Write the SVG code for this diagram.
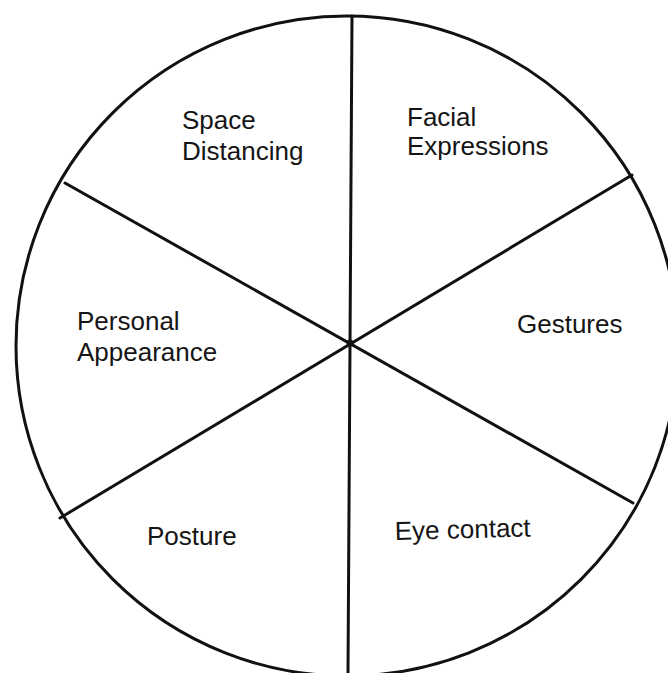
<svg xmlns="http://www.w3.org/2000/svg" width="668" height="673" viewBox="0 0 668 673">
<style>
.ln{fill:none;stroke:#111;stroke-width:3;stroke-linecap:round}
.lb{font-family:"Liberation Sans",Arial,sans-serif;font-size:26px;fill:#151515}
</style>
<rect width="668" height="673" fill="#ffffff"/>
<g id="wheel">
<ellipse class="ln" cx="347" cy="346" rx="331" ry="330" stroke-width="3.3"/>
</g>
<g id="connectors">
<line class="ln" x1="352" y1="16" x2="348" y2="673"/>
<line class="ln" x1="65" y1="183" x2="633" y2="503"/>
<line class="ln" x1="632" y1="175" x2="60" y2="518"/>
<circle cx="350" cy="343" r="3.5" fill="#111"/>
</g>
<g id="space-distancing">
<text class="lb" x="182" y="129">Space</text>
<text class="lb" x="182" y="160">Distancing</text>
</g>
<g id="facial-expressions">
<text class="lb" x="407" y="126">Facial</text>
<text class="lb" x="407" y="155">Expressions</text>
</g>
<g id="personal-appearance">
<text class="lb" x="77" y="330">Personal</text>
<text class="lb" x="77" y="361">Appearance</text>
</g>
<g id="gestures">
<text class="lb" x="517" y="333">Gestures</text>
</g>
<g id="posture">
<text class="lb" x="147" y="545">Posture</text>
</g>
<g id="eye-contact">
<text class="lb" x="395" y="540" transform="rotate(-1.5 395 540)">Eye contact</text>
</g>
</svg>
